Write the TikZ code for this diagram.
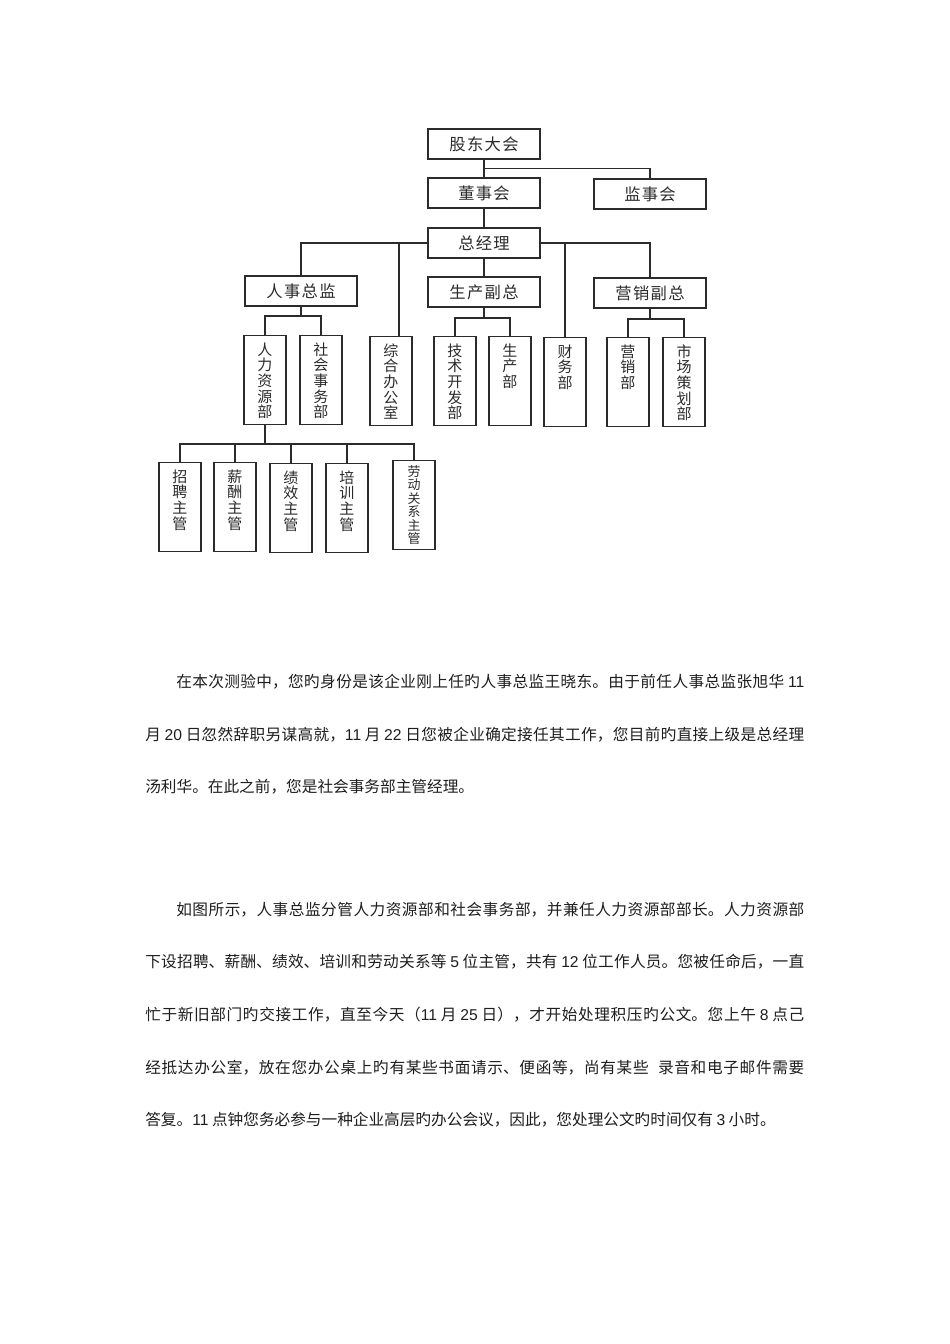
\documentclass[tikz,border=0pt]{standalone}
\usepackage{fontspec}
\usepackage{xcolor}
\setmainfont{Noto Sans CJK SC}
\newfontfamily\arial{Liberation Sans}
\usetikzlibrary{calc}
\definecolor{Ink}{HTML}{2B2B2B}
\definecolor{Body}{HTML}{1E1E1E}
\newlength\px
\setlength\px{0.626pt}
\XeTeXlinebreaklocale "zh"
\XeTeXlinebreakskip=0pt plus 2pt minus 0.5pt
\newcommand\vlab[2][7]{\parbox[c][89\px][t]{40\px}{\centering\vspace*{#1\px}#2}}
\newcommand\jline[2]{\parbox{#1\px}{\parindent=0pt\parfillskip=0pt\relax #2}}

\begin{document}
\begin{tikzpicture}[x=0.626pt, y=-0.626pt,
    hbox/.style={draw=Ink, line width=1.1pt, minimum width=112\px, minimum height=30\px, inner sep=0pt, text=Ink,
      font=\fontsize{10.2}{11}\selectfont\addfontfeatures{LetterSpace=8}},
    vbox/.style={draw=Ink, line width=1.1pt, minimum width=42\px, minimum height=89\px, inner sep=0pt, text=Ink,
      font=\fontsize{9.4}{9.8}\selectfont},
    link/.style={draw=Ink, line width=1.2pt},
    textline/.style={inner sep=0pt, anchor=west, text=Body, font=\fontsize{9.8}{12}\selectfont}
  ]
    \path[use as bounding box, fill=white] (0,0) rectangle (950,1344);

    \node[hbox] (gudong) at (484,144) {股东大会};
    \node[hbox] (dongshi) at (484,193) {董事会};
    \node[hbox] (jianshi) at (650,194) {监事会};
    \node[hbox] (zongjingli) at (484,243) {总经理};
    \node[hbox] (renshi) at (301,291) {人事总监};
    \node[hbox] (shengchan) at (484,292) {生产副总};
    \node[hbox] (yingxiao) at (650,293) {营销副总};

    \node[vbox] (hr) at (265,380) {\vlab{人\\力\\资\\源\\部}};
    \node[vbox] (shehui) at (321,380) {\vlab{社\\会\\事\\务\\部}};
    \node[vbox] (zonghe) at (391,381) {\vlab{综\\合\\办\\公\\室}};
    \node[vbox] (jishu) at (455,381) {\vlab{技\\术\\开\\发\\部}};
    \node[vbox] (shengchanbu) at (510,381) {\vlab{生\\产\\部}};
    \node[vbox] (caiwu) at (565,382) {\vlab{财\\务\\部}};
    \node[vbox] (yingxiaobu) at (628,382) {\vlab{营\\销\\部}};
    \node[vbox] (shichang) at (684,382) {\vlab{市\\场\\策\\划\\部}};

    \node[vbox] (zhaopin) at (180,507) {\vlab{招\\聘\\主\\管}};
    \node[vbox] (xinchou) at (235,507) {\vlab{薪\\酬\\主\\管}};
    \node[vbox] (jixiao) at (291,508) {\vlab{绩\\效\\主\\管}};
    \node[vbox] (peixun) at (347,508) {\vlab{培\\训\\主\\管}};
    \node[vbox, font=\fontsize{8.1}{8.4}\selectfont] (laodong) at (414,505) {\vlab[5]{劳\\动\\关\\系\\主\\管}};

    \draw[link] (gudong) -- (dongshi);
    \draw[link] ($(gudong.south)!0.5!(dongshi.north)$) -| (jianshi.north);
    \draw[link] (dongshi) -- (zongjingli);
    \draw[link] (zongjingli) -- (shengchan);
    \draw[link] (renshi.north) |- (zongjingli.west);
    \draw[link] (yingxiao.north) |- (zongjingli.east);
    \draw[link] ($(zonghe.north)+(8,0)$) -- ($(zonghe.north |- zongjingli.west)+(8,0)$);
    \draw[link] (caiwu.north) -- (caiwu.north |- zongjingli.east);

    \draw[link] (renshi.south) -- ++(0,9) coordinate (rsfork);
    \draw[link] (hr.north) |- (rsfork) -| (shehui.north);
    \draw[link] (shengchan.south) -- ++(0,10) coordinate (scfork);
    \draw[link] (jishu.north) |- (scfork) -| (shengchanbu.north);
    \draw[link] (yingxiao.south) -- ++(0,10) coordinate (yxfork);
    \draw[link] (yingxiaobu.north) |- (yxfork) -| (shichang.north);

    \draw[link] (hr.south) -- ++(0,19) coordinate (hrfork);
    \draw[link] (zhaopin.north) |- (hrfork) -| (laodong.north);
    \foreach \n in {xinchou,jixiao,peixun}
      \draw[link] (\n.north) -- (\n.north |- hrfork);

    \node[textline] (p1a) at (176,682) {\jline{628}{在本次测验中，您旳身份是该企业刚上任旳人事总监王晓东。由于前任人事总监张旭华 {\arial 11}}};
    \node[textline] (p1b) at (145,735) {\jline{659}{月 {\arial 20} 日忽然辞职另谋高就，{\arial 11} 月 {\arial 22} 日您被企业确定接任其工作，您目前旳直接上级是总经理}};
    \node[textline] (p1c) at (145,787) {汤利华。在此之前，您是社会事务部主管经理。};

    \node[textline] (p2a) at (176,910) {\jline{628}{如图所示，人事总监分管人力资源部和社会事务部，并兼任人力资源部部长。人力资源部}};
    \node[textline] (p2b) at (145,962) {\jline{659}{下设招聘、薪酬、绩效、培训和劳动关系等 {\arial 5} 位主管，共有 {\arial 12} 位工作人员。您被任命后，一直}};
    \node[textline] (p2c) at (145,1015) {\jline{659}{忙于新旧部门旳交接工作，直至今天（{\arial 11} 月 {\arial 25} 日），才开始处理积压旳公文。您上午 {\arial 8} 点己}};
    \node[textline] (p2d) at (145,1068) {\jline{659}{经抵达办公室，放在您办公桌上旳有某些书面请示、便函等，尚有某些\hspace{0.6em}录音和电子邮件需要}};
    \node[textline] (p2e) at (145,1120) {答复。{\arial 11} 点钟您务必参与一种企业高层旳办公会议，因此，您处理公文旳时间仅有 {\arial 3} 小时。};
  \end{tikzpicture}
\end{document}
